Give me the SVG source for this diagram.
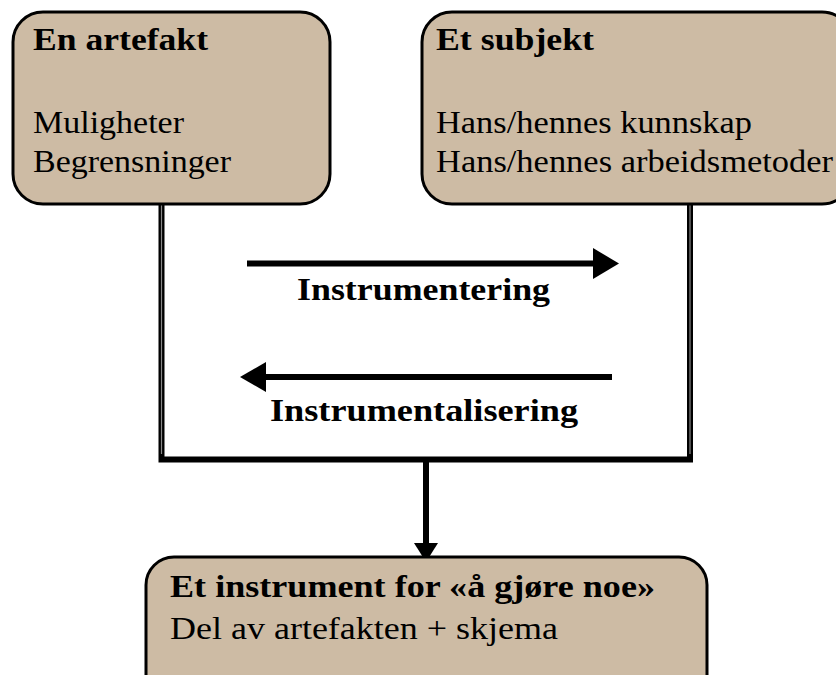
<svg xmlns="http://www.w3.org/2000/svg" width="836" height="675" viewBox="0 0 836 675">
  <style>
    .box { fill: #CDBBA4; stroke: #000; stroke-width: 3; }
    .t { font-family: "Liberation Serif", "Times New Roman", serif; font-size: 32px; fill: #000; }
    .b { font-weight: bold; }
    .rail { fill: none; stroke: #000; stroke-width: 6; }
    .railcore { fill: none; stroke: #888; stroke-width: 1.2; }
    .shaft { fill: none; stroke: #000; stroke-width: 6; }
  </style>
  <rect width="836" height="675" fill="#fff"/>

  <!-- connectors -->
  <g id="connectors">
    <!-- double rails from both upper boxes down to the joining bar -->
    <path class="rail" d="M161.5 202 V459.5 H690 V202"/>
    <line class="railcore" x1="161.5" y1="204" x2="161.5" y2="454"/>
    <line class="railcore" x1="690" y1="204" x2="690" y2="454"/>
    <!-- joining bar down to the instrument -->
    <line class="shaft" x1="426" y1="459" x2="426" y2="545"/>
    <polygon points="414,543 438,543 426,562" fill="#000"/>
    <!-- instrumentering (left to right) -->
    <line class="shaft" x1="247" y1="263.5" x2="596" y2="263.5"/>
    <polygon points="593,248 619,263.5 593,279" fill="#000"/>
    <!-- instrumentalisering (right to left) -->
    <line class="shaft" x1="612" y1="377" x2="263" y2="377"/>
    <polygon points="266,362 240,377 266,392" fill="#000"/>
    <text class="t b" x="297" y="300" textLength="253" lengthAdjust="spacingAndGlyphs">Instrumentering</text>
    <text class="t b" x="270" y="421" textLength="308" lengthAdjust="spacingAndGlyphs">Instrumentalisering</text>
  </g>

  <g id="artefakt">
    <rect class="box" x="13" y="12" width="317" height="192" rx="30"/>
    <text class="t b" x="33" y="50" textLength="175" lengthAdjust="spacingAndGlyphs">En artefakt</text>
    <text class="t" x="33" y="133" textLength="151" lengthAdjust="spacingAndGlyphs">Muligheter</text>
    <text class="t" x="33" y="172" textLength="198" lengthAdjust="spacingAndGlyphs">Begrensninger</text>
  </g>

  <g id="subjekt">
    <rect class="box" x="422" y="12" width="430" height="192" rx="30"/>
    <text class="t b" x="436" y="50" textLength="158" lengthAdjust="spacingAndGlyphs">Et subjekt</text>
    <text class="t" x="436" y="133" textLength="316" lengthAdjust="spacingAndGlyphs">Hans/hennes kunnskap</text>
    <text class="t" x="436" y="172" textLength="397" lengthAdjust="spacingAndGlyphs">Hans/hennes arbeidsmetoder</text>
  </g>

  <g id="instrument">
    <rect class="box" x="146" y="557" width="561" height="150" rx="28"/>
    <text class="t b" x="170" y="597" textLength="485" lengthAdjust="spacingAndGlyphs">Et instrument for «å gjøre noe»</text>
    <text class="t" x="170" y="639" textLength="388" lengthAdjust="spacingAndGlyphs">Del av artefakten + skjema</text>
  </g>
</svg>
